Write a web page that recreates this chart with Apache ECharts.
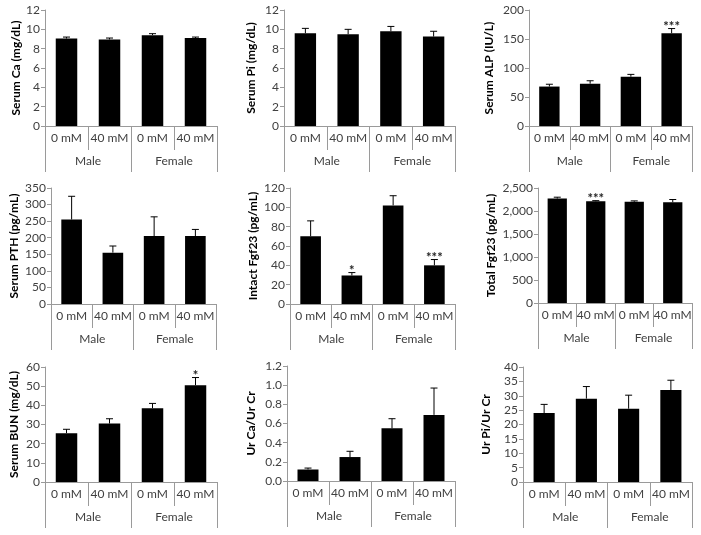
<!DOCTYPE html>
<html>
<head>
<meta charset="utf-8">
<script src="https://cdn.jsdelivr.net/npm/echarts@6/dist/echarts.min.js"></script>
<style>
  html, body { margin: 0; padding: 0; background: #fff; }
  #main { width: 701px; height: 535px; }
</style>
</head>
<body>
<div id="main"></div>
<script>
// 分类 / 分组
var cats = ['0 mM', '40 mM', '0 mM', '40 mM'];
var groups = ['Male', 'Female'];

// 各指标均值、误差、显著性标记
var caVal = [9.05, 8.95, 9.4, 9.1];
var caErr = [0.15, 0.15, 0.15, 0.1];
var caStar = ['', '', '', ''];

var piVal = [9.6, 9.5, 9.8, 9.25];
var piErr = [0.5, 0.5, 0.5, 0.55];
var piStar = ['', '', '', ''];

var alpVal = [68, 73, 85, 160];
var alpErr = [4, 5, 4, 8];
var alpStar = ['', '', '', '***'];

var pthVal = [255, 155, 205, 205];
var pthErr = [70, 20, 58, 20];
var pthStar = ['', '', '', ''];

var iFgfVal = [70, 29.5, 102, 40];
var iFgfErr = [16, 3, 10, 6];
var iFgfStar = ['', '*', '', '***'];

var tFgfVal = [2270, 2210, 2200, 2190];
var tFgfErr = [30, 15, 20, 60];
var tFgfStar = ['', '***', '', ''];

var bunVal = [25.5, 30.5, 38.5, 50.5];
var bunErr = [2, 2.5, 2.5, 4];
var bunStar = ['', '', '', '*'];

var urCaVal = [0.12, 0.25, 0.55, 0.69];
var urCaErr = [0.015, 0.06, 0.1, 0.28];
var urCaStar = ['', '', '', ''];

var urPiVal = [24, 29, 25.5, 32];
var urPiErr = [3, 4.2, 4.7, 3.4];
var urPiStar = ['', '', '', ''];

// 面板：数据 + 坐标轴
var panels = [
    {name: 'Serum Ca (mg/dL)', val: caVal, err: caErr, star: caStar, max: 12, step: 2, fmt: 'int'},
    {name: 'Serum Pi (mg/dL)', val: piVal, err: piErr, star: piStar, max: 12, step: 2, fmt: 'int'},
    {name: 'Serum ALP (IU/L)', val: alpVal, err: alpErr, star: alpStar, max: 200, step: 50, fmt: 'int'},
    {name: 'Serum PTH (pg/mL)', val: pthVal, err: pthErr, star: pthStar, max: 350, step: 50, fmt: 'int'},
    {name: 'Intact Fgf23 (pg/mL)', val: iFgfVal, err: iFgfErr, star: iFgfStar, max: 120, step: 20, fmt: 'int'},
    {name: 'Total Fgf23 (pg/mL)', val: tFgfVal, err: tFgfErr, star: tFgfStar, max: 2500, step: 500, fmt: 'comma'},
    {name: 'Serum BUN (mg/dL)', val: bunVal, err: bunErr, star: bunStar, max: 60, step: 10, fmt: 'int'},
    {name: 'Ur Ca/Ur Cr', val: urCaVal, err: urCaErr, star: urCaStar, max: 1.2, step: 0.2, fmt: 'dec1'},
    {name: 'Ur Pi/Ur Cr', val: urPiVal, err: urPiErr, star: urPiStar, max: 40, step: 5, fmt: 'int'}
];

// 布局 [left, top, width, height, nameGap]
var layout = [
    [45, 10, 172, 116, 23],
    [284, 10, 171, 116, 27],
    [529, 10, 163, 116, 34],
    [51, 188, 165, 116, 31],
    [290, 188, 165, 116, 31],
    [538, 188, 154, 115, 41],
    [45, 367, 172, 115, 25],
    [287, 366, 168, 115, 30],
    [523, 367, 169, 115, 31]
];

var FONT = 'Lato';
var LINE = '#9a9a9a';
var TXT = '#404040';

function fmtLabel(type) {
    return function (v) {
        if (type === 'comma') return v.toLocaleString('en-US');
        if (type === 'dec1') return v.toFixed(1);
        return String(Math.round(v));
    };
}

var grid = [], xAxis = [], yAxis = [], series = [];

panels.forEach(function (p, i) {
    var l = layout[i];
    grid.push({left: l[0], top: l[1], width: l[2], height: l[3], containLabel: false});

    // 第一层：剂量
    xAxis.push({
        type: 'category', gridIndex: i, data: cats, position: 'bottom',
        axisLine: {show: true, lineStyle: {color: LINE, width: 1}},
        axisTick: {show: true, length: 24, lineStyle: {color: LINE}},
        axisLabel: {color: TXT, fontFamily: FONT, fontSize: 12, margin: 6, interval: 0}
    });
    // 第二层：性别
    xAxis.push({
        type: 'category', gridIndex: i, data: groups, position: 'bottom',
        axisLine: {show: false},
        axisTick: {show: true, length: 46, lineStyle: {color: LINE}},
        axisLabel: {color: TXT, fontFamily: FONT, fontSize: 12, margin: 29, interval: 0}
    });

    yAxis.push({
        type: 'value', gridIndex: i, min: 0, max: p.max, interval: p.step,
        name: p.name, nameLocation: 'middle', nameGap: l[4],
        nameTextStyle: {color: '#000', fontFamily: FONT, fontSize: 12, fontWeight: 'bold'},
        axisLine: {show: true, lineStyle: {color: LINE, width: 1}},
        axisTick: {show: true, length: 4, lineStyle: {color: LINE}},
        axisLabel: {color: TXT, fontFamily: FONT, fontSize: 12, margin: 5, formatter: fmtLabel(p.fmt)},
        splitLine: {show: false}
    });

    series.push({
        type: 'bar', xAxisIndex: i * 2, yAxisIndex: i,
        data: p.val, barWidth: '50%',
        itemStyle: {color: '#000'},
        silent: true, animation: false
    });

    // 误差线 + 星号
    var errData = p.val.map(function (v, k) { return [k, v, p.err[k]]; });
    series.push({
        type: 'custom', xAxisIndex: i * 2, yAxisIndex: i,
        data: errData, silent: true, animation: false, z: 5,
        renderItem: (function (stars) {
            return function (params, api) {
                var x = api.value(0), v = api.value(1), e = api.value(2);
                var base = api.coord([x, v]);
                var top = api.coord([x, v + e]);
                var st = {stroke: '#000', lineWidth: 1};
                var kids = [
                    {type: 'line', shape: {x1: base[0], y1: base[1], x2: top[0], y2: top[1]}, style: st},
                    {type: 'line', shape: {x1: top[0] - 3.5, y1: top[1], x2: top[0] + 3.5, y2: top[1]}, style: st}
                ];
                var s = stars[params.dataIndex];
                if (s) {
                    kids.push({
                        type: 'text',
                        style: {
                            text: s, x: top[0], y: top[1] + 5,
                            align: 'center', verticalAlign: 'bottom',
                            fill: '#222', font: 'bold 13px ' + FONT
                        }
                    });
                }
                return {type: 'group', children: kids};
            };
        })(p.star)
    });
});

var myChart = echarts.init(document.getElementById('main'));
myChart.setOption({
    backgroundColor: '#fff',
    animation: false,
    grid: grid,
    xAxis: xAxis,
    yAxis: yAxis,
    series: series
});
</script>
</body>
</html>
